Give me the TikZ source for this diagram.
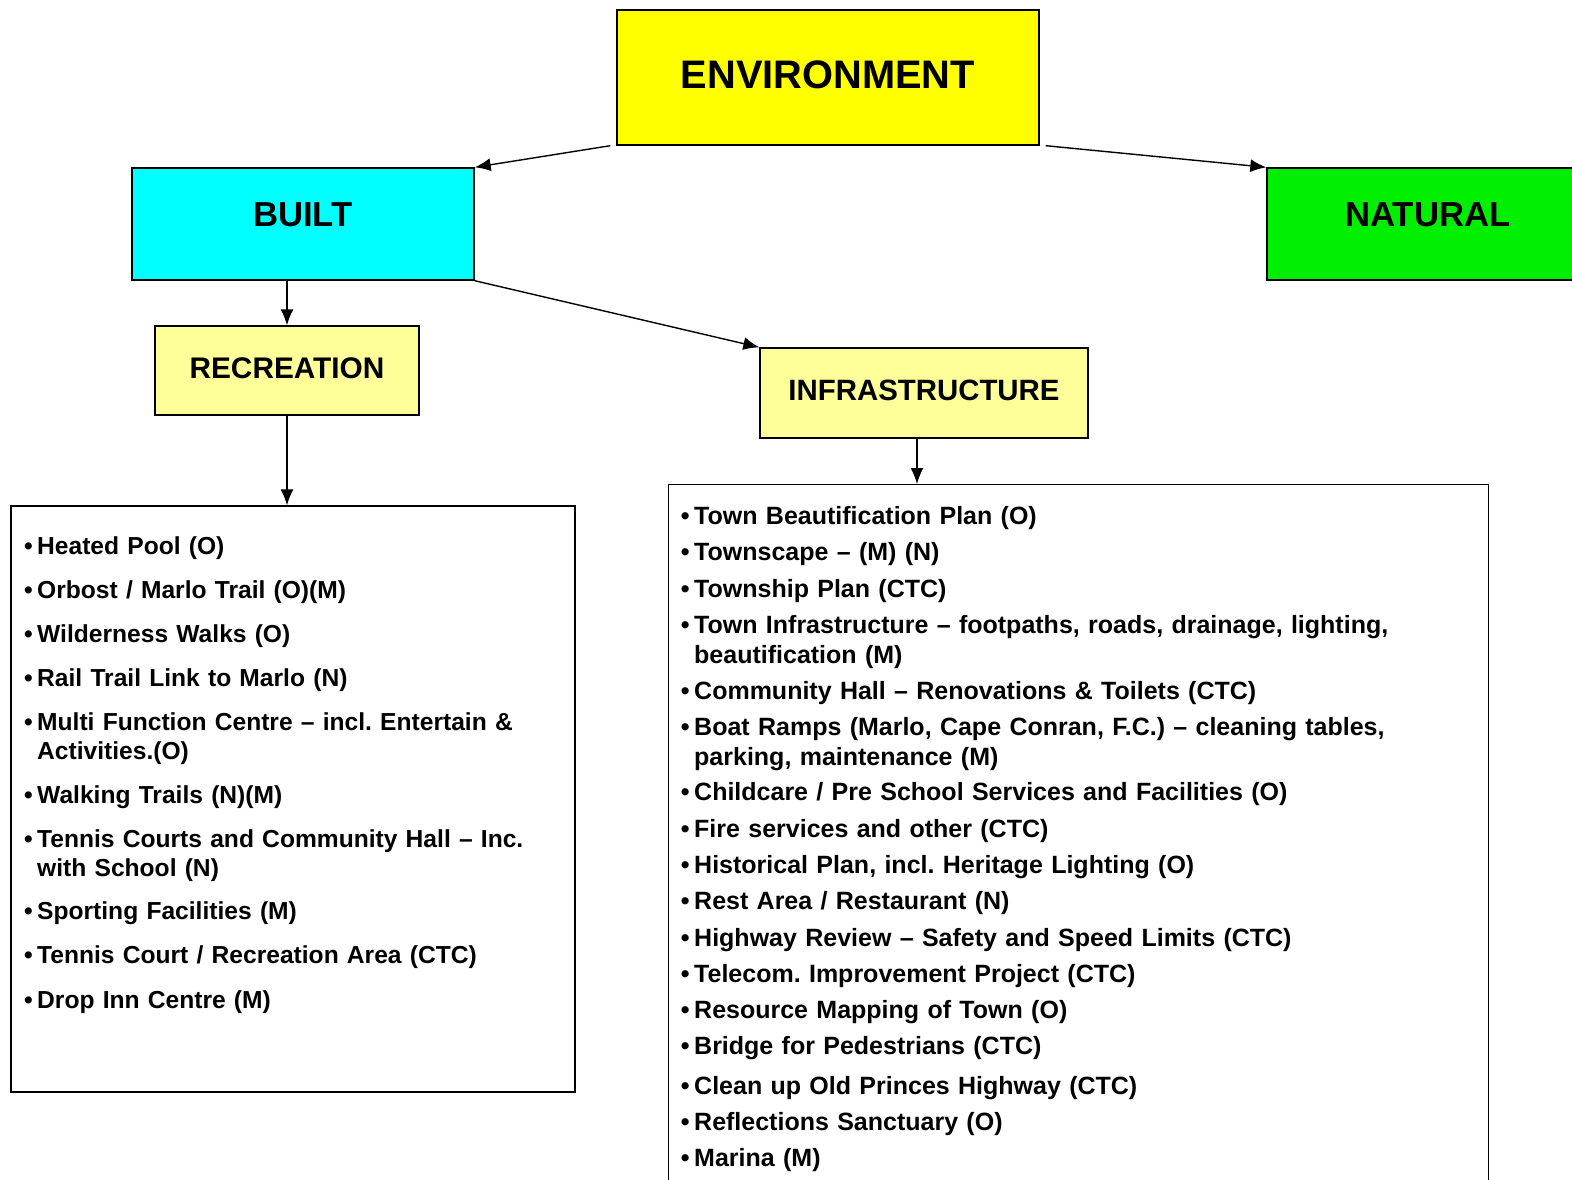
\documentclass[tikz,border=0pt]{standalone}
\usepackage{fontspec}
\setmainfont{Liberation Sans}
\usetikzlibrary{arrows.meta}
\definecolor{envyellow}{RGB}{255, 255, 0}
\definecolor{builtcyan}{RGB}{0, 255, 255}
\definecolor{natgreen}{RGB}{0, 238, 0}
\definecolor{paleyellow}{RGB}{255, 255, 153}
\newcommand{\bul}{\llap{\textbullet\hspace{4.5pt}}}
\frenchspacing
\tikzset{>={Latex[length=16pt,width=13pt]}}

\begin{document}
\begin{tikzpicture}[x=1pt, y=-1pt,
  box/.style={draw, line width=1.4pt, inner sep=0pt},
  link/.style={->, line width=1.4pt},
  recitem/.style={anchor=base west, inner sep=0pt, text width=530pt, align=left,
    font=\bfseries\fontsize{24.6}{29}\selectfont},
  infitem/.style={anchor=base west, inner sep=0pt, text width=790pt, align=left,
    font=\bfseries\fontsize{25}{30}\selectfont}]
  \useasboundingbox (0,0) rectangle (1572,1180);
  \clip (0,0) rectangle (1572,1180);

  % top level
  \node[box, fill=envyellow, minimum width=422pt, minimum height=135pt,
    font=\bfseries\fontsize{39.8}{40}\selectfont, text height=28.5pt, text depth=7pt]
    (env) at (828,77.5) {ENVIRONMENT};
  \node[box, fill=builtcyan, minimum width=342pt, minimum height=112pt,
    font=\bfseries\fontsize{34.7}{35}\selectfont, text height=24.8pt, text depth=20pt]
    (built) at (303,224) {BUILT};
  \node[box, fill=natgreen, minimum width=322pt, minimum height=112pt,
    font=\bfseries\fontsize{34.7}{35}\selectfont, text height=24.8pt, text depth=20pt]
    (natural) at (1428,224) {NATURAL};

  % second level
  \node[box, fill=paleyellow, minimum width=264pt, minimum height=89pt,
    font=\bfseries\fontsize{29.8}{30}\selectfont, text height=21.3pt, text depth=5pt]
    (rec) at (287,370.5) {RECREATION};
  \node[box, fill=paleyellow, minimum width=328pt, minimum height=90pt,
    font=\bfseries\fontsize{29.4}{30}\selectfont, text height=21pt, text depth=6pt]
    (infra) at (924,393) {INFRASTRUCTURE};

  % lists
  \node[box, minimum width=564pt, minimum height=586pt] (reclist) at (293,799) {};
  \node[box, anchor=north west, minimum width=820pt, minimum height=740pt] (infralist) at (668,484) {};

  \node[recitem] (r1) at (37,554) {\bul Heated Pool (O)};
  \node[recitem] (r2) at (37,598) {\bul Orbost / Marlo Trail (O)(M)};
  \node[recitem] (r3) at (37,642) {\bul Wilderness Walks (O)};
  \node[recitem] (r4) at (37,686) {\bul Rail Trail Link to Marlo (N)};
  \node[recitem] (r5) at (37,730) {\bul Multi Function Centre – incl. Entertain \&\\Activities.(O)};
  \node[recitem] (r6) at (37,803) {\bul Walking Trails (N)(M)};
  \node[recitem] (r7) at (37,847) {\bul Tennis Courts and Community Hall – Inc.\\with School (N)};
  \node[recitem] (r8) at (37,919) {\bul Sporting Facilities (M)};
  \node[recitem] (r9) at (37,963) {\bul Tennis Court / Recreation Area (CTC)};
  \node[recitem] (r10) at (37,1008) {\bul Drop Inn Centre (M)};

  \node[infitem] (i1) at (694,524) {\bul Town Beautification Plan (O)};
  \node[infitem] (i2) at (694,560) {\bul Townscape – (M) (N)};
  \node[infitem] (i3) at (694,597) {\bul Township Plan (CTC)};
  \node[infitem] (i4) at (694,633) {\bul Town Infrastructure – footpaths, roads, drainage, lighting,\\beautification (M)};
  \node[infitem] (i5) at (694,699) {\bul Community Hall – Renovations \& Toilets (CTC)};
  \node[infitem] (i6) at (694,735) {\bul Boat Ramps (Marlo, Cape Conran, F.C.) – cleaning tables,\\parking, maintenance (M)};
  \node[infitem] (i7) at (694,800) {\bul Childcare / Pre School Services and Facilities (O)};
  \node[infitem] (i8) at (694,837) {\bul Fire services and other (CTC)};
  \node[infitem] (i9) at (694,873) {\bul Historical Plan, incl. Heritage Lighting (O)};
  \node[infitem] (i10) at (694,909) {\bul Rest Area / Restaurant (N)};
  \node[infitem] (i11) at (694,946) {\bul Highway Review – Safety and Speed Limits (CTC)};
  \node[infitem] (i12) at (694,982) {\bul Telecom. Improvement Project (CTC)};
  \node[infitem] (i13) at (694,1018) {\bul Resource Mapping of Town (O)};
  \node[infitem] (i14) at (694,1054) {\bul Bridge for Pedestrians (CTC)};
  \node[infitem] (i15) at (694,1094) {\bul Clean up Old Princes Highway (CTC)};
  \node[infitem] (i16) at (694,1130) {\bul Reflections Sanctuary (O)};
  \node[infitem] (i17) at (694,1166) {\bul Marina (M)};

  % connectors
  \draw[link] ([xshift=-6pt]env.south west) -- (built.north east);
  \draw[link] ([xshift=6pt]env.south east) -- (natural.north west);
  \draw[link] (rec.north |- built.south) -- (rec.north);
  \draw[link] (built.south east) -- (infra.north west);
  \draw[link] (rec.south) -- (rec.south |- reclist.north);
  \draw[link] ([xshift=-7pt]infra.south) -- ([xshift=-7pt]infra.south |- infralist.north);
\end{tikzpicture}
\end{document}
